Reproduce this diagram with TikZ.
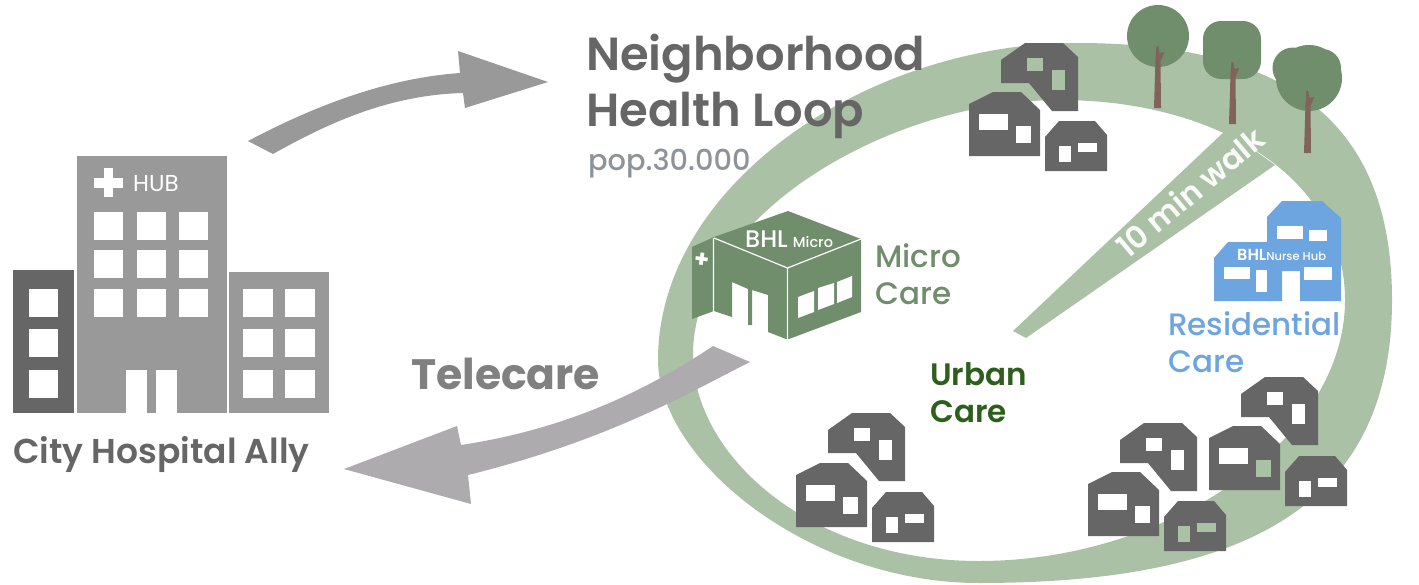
\documentclass[tikz,border=0pt]{standalone}
\usepackage{fontspec}
\setmainfont{Poppins}
\newfontfamily\medfont{Poppins Medium}
\newfontfamily\semifont{Poppins SemiBold}
\definecolor{bandgreen}{HTML}{AAC1A5}
\definecolor{sagegreen}{HTML}{708D6C}
\definecolor{urbangreen}{HTML}{2E5E1C}
\definecolor{nurseblue}{HTML}{6CA5DF}
\definecolor{housegrey}{HTML}{666666}
\definecolor{hospgrey}{HTML}{999999}
\definecolor{arrowgrey}{HTML}{ADABAE}
\definecolor{popgrey}{HTML}{8E9399}
\definecolor{trunkbrown}{HTML}{80645A}
\tikzset{
  winbox/.style={fill=white},
  label/.style={anchor=north west, inner sep=0pt, align=left},
  carelabel/.style={label, font=\fontsize{31}{37}\selectfont\medfont},
  pics/housea/.style 2 args={code={
    \fill[housegrey] (0,17) -- (24,0) -- (62,0) -- (77,14) -- (77,68) -- (51,68) -- (28,40) -- (0,40) -- cycle;
    \fill[#1] (26,15) rectangle (42,28);
    \fill[#2] (51,27) rectangle (64,47);
  }},
  pics/houseb/.style 2 args={code={
    \fill[housegrey] (0,12) -- (24,0) -- (52,0) -- (71,18) -- (71,64) -- (0,64) -- cycle;
    \fill[#1] (10,22) rectangle (39,38);
    \fill[#2] (47,34) rectangle (62,51);
  }},
  pics/housec/.style 2 args={code={
    \fill[housegrey] (0,16) -- (14,0) -- (50,0) -- (62,14) -- (62,50) -- (0,50) -- cycle;
    \fill[#1] (14,25) rectangle (26,41);
    \fill[#2] (33,22) rectangle (52,31);
  }},
  pics/trunk/.style={code={
    \fill[trunkbrown] (-3.5,0) -- (-2,-50) -- (-1,-62) -- (0.7,-62) -- (2,-55) -- (7,-56) -- (3,-47) -- (3.5,0) -- cycle;
  }},
}
\begin{document}
\begin{tikzpicture}[x=1pt,y=-1pt]
  \useasboundingbox (0,0) rectangle (1419,584);

  % loop band and the walk spoke
  \fill[bandgreen, even odd rule]
    (1077,43) .. controls (1297,43) and (1392,130) .. (1392,300)
    .. controls (1392,510) and (1239,583) .. (979,583)
    .. controls (809,583) and (658,460) .. (658,360)
    .. controls (658,185) and (867,43) .. (1077,43) -- cycle
    (1060,100) .. controls (1220,100) and (1345,180) .. (1345,300)
    .. controls (1345,440) and (1169,561) .. (979,561)
    .. controls (809,561) and (693,455) .. (693,355)
    .. controls (693,215) and (890,100) .. (1060,100) -- cycle;
  \fill[bandgreen] (1013,331) -- (1226,130) -- (1275,165) -- (1026,338) -- cycle;
  \node[rotate=40, text=white!93!bandgreen, inner sep=0pt, font=\fontsize{31}{31}\selectfont\semifont] (walk) at (1190,192) {10 min walk};

  % hospital
  \fill[housegrey] (13,270) rectangle (74,413);
  \fill[hospgrey] (77,156) rectangle (227,413);
  \fill[hospgrey] (229,272) rectangle (329,413);
  \foreach \y in {289,329,370} {
    \fill[winbox] (29,\y) rectangle ++(29,28);
    \fill[winbox] (243,\y) rectangle ++(30,28);
    \fill[winbox] (285,\y) rectangle ++(30,28);
  }
  \foreach \x in {94,137,179}
    \foreach \y in {212,250,289}
      \fill[winbox] (\x,\y) rectangle ++(29,28);
  \fill[winbox] (126,370) rectangle (147,413);
  \fill[winbox] (156,370) rectangle (177,413);
  \fill[winbox] (94,178) rectangle (123,188);
  \fill[winbox] (104,168) rectangle (113,197);
  \node[anchor=base west, inner sep=0pt, text=white, font=\fontsize{23}{23}\selectfont] (hub) at (133,191) {HUB};
  \node[anchor=base west, inner sep=0pt, text=housegrey, font=\fontsize{34.5}{35}\selectfont\semifont] (ally) at (13,463) {City Hospital Ally};

  % the two arrows
  \fill[hospgrey] (248,141) .. controls (320,103) and (390,78) .. (460,73) -- (458,51) -- (548,82) -- (465,108) -- (463,93)
    .. controls (390,95) and (330,122) .. (273,154) -- cycle;
  \fill[arrowgrey] (713,346) -- (750,362) .. controls (690,392) and (610,440) .. (468,475) -- (471,504) -- (344,469) -- (457,426) -- (461,445)
    .. controls (560,430) and (640,395) .. (713,346) -- cycle;
  \node[anchor=base west, inner sep=0pt, text=black!50, font=\fontsize{42.5}{42.5}\selectfont\bfseries] (telecare) at (411,389) {Telecare};

  % titles
  \node[label, text=housegrey, font=\fontsize{46.4}{55.5}\selectfont\semifont] (title) at (586,34) {Neighborhood\\Health Loop};
  \node[anchor=base west, inner sep=0pt, text=popgrey, font=\fontsize{28.8}{29}\selectfont\medfont] (pop) at (588,170) {pop.30.000};

  % micro building
  \fill[sagegreen] (692,247) -- (714,237) -- (788,211) -- (861,239) -- (861,312) -- (789,339) -- (786,339) -- (768,332) -- (768,295) -- (752,290) -- (752,325) -- (748,325) -- (748,289) -- (732,282) -- (732,317) -- (714,311) -- (692,319) -- cycle;
  \draw[white, line width=1.2pt] (714,238) -- (787.5,268) -- (861,239) (787.5,268) -- (787.5,339) (713.5,238) -- (713.5,312);
  \fill[winbox] (798,297) -- (814,291) -- (814,312) -- (798,318) -- cycle;
  \fill[winbox] (818,288) -- (834,283) -- (834,304) -- (818,310) -- cycle;
  \fill[winbox] (837,282) -- (852,276) -- (852,297) -- (837,303) -- cycle;
  \node[rotate=-8, text=white, inner sep=0pt, font=\fontsize{24}{24}\selectfont\bfseries] (plus) at (702,260) {+};
  \node[anchor=base west, inner sep=0pt, text=white, font=\fontsize{24}{24}\selectfont\medfont] (bhlmicro) at (745,247) {BHL\hspace{5pt}\fontsize{14.5}{14.5}\selectfont Micro};
  \node[carelabel, text=sagegreen] (microcare) at (875,243) {Micro\\Care};
  \node[carelabel, text=urbangreen, font=\fontsize{31}{37}\selectfont\semifont] (urbancare) at (930,362) {Urban\\Care};

  % nurse hub
  \fill[nurseblue] (1214,258) -- (1228,242) -- (1267,242) -- (1267,217) -- (1282,201) -- (1322,201) -- (1341,218) -- (1341,301) -- (1300,301) -- (1300,271) -- (1282,271) -- (1282,301) -- (1214,301) -- cycle;
  \fill[winbox] (1277,226) rectangle (1303,239);
  \fill[winbox] (1309,230) rectangle (1327,241);
  \fill[winbox] (1224,267) rectangle (1250,279);
  \fill[winbox] (1256,270) rectangle (1267,292);
  \fill[winbox] (1304,267) rectangle (1332,280);
  \node[anchor=base west, inner sep=0pt, text=white, font=\fontsize{16}{16}\selectfont\semifont] (bhlnurse) at (1237,260) {BHL\fontsize{11.5}{11.5}\selectfont\medfont Nurse Hub};
  \node[carelabel, text=nurseblue] (rescare) at (1168,311) {Residential\\Care};

  % trees
  \fill[sagegreen] (1158,36) circle (31);
  \fill[sagegreen, rounded corners=18pt] (1203,21) rectangle (1261,79);
  \fill[sagegreen] (1293,68) circle (20.5) (1322,68) circle (19) (1309,78) circle (33);
  \pic at (1157.5,108) {trunk};
  \pic at (1232.5,124) {trunk};
  \pic at (1307.5,153) {trunk};

  % houses
  \pic at (1001,43) {housea={bandgreen}{bandgreen}};
  \pic at (969,92) {houseb={white}{white}};
  \pic at (1045,121) {housec={white}{white}};

  \pic at (828,413) {housea={white}{white}};
  \pic at (796,463) {houseb={white}{white}};
  \pic at (872,492) {housec={white}{white}};

  \pic at (1241,377) {housea={white}{white}};
  \pic at (1209,426) {houseb={white}{bandgreen}};
  \pic at (1285,456) {housec={white}{white}};
  \pic at (1120,423) {housea={white}{white}};
  \pic at (1088,472) {houseb={white}{white}};
  \pic at (1164,501) {housec={bandgreen}{bandgreen}};
\end{tikzpicture}
\end{document}
